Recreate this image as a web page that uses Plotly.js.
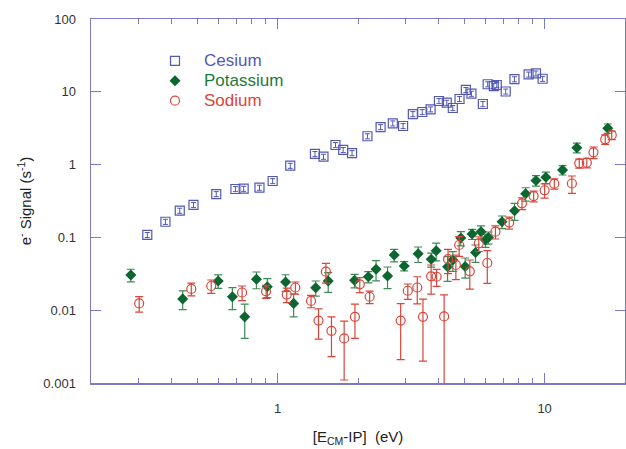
<!DOCTYPE html>
<html>
<head>
<meta charset="utf-8">
<script src="https://cdn.plot.ly/plotly-3.0.1.min.js"></script>
<style>
html,body{margin:0;padding:0;background:#fff;}
#chart{width:626px;height:449px;}
</style>
</head>
<body>
<div id="chart"></div>
<script>
// Cesium
var csX = [0.325,0.380,0.430,0.484,0.589,0.695,0.746,0.855,0.958,1.115,1.38,1.485,1.647,1.76,1.90,2.17,2.43,2.70,2.95,3.21,3.48,3.74,4.02,4.30,4.53,4.80,5.07,5.32,5.87,6.12,6.45,6.62,7.15,7.71,8.71,9.28,9.83];
var csY = [0.108,0.164,0.233,0.279,0.394,0.462,0.467,0.482,0.595,0.966,1.40,1.285,1.86,1.59,1.44,2.45,3.28,3.69,3.39,4.95,5.28,5.75,7.48,7.08,5.99,7.96,10.6,9.42,6.80,12.7,12.0,12.4,10.1,14.9,17.3,17.9,15.1];

// Potassium
var kX = [0.282,0.441,0.599,0.677,0.753,0.833,0.915,1.071,1.148,1.389,1.547,1.942,2.186,2.337,2.58,2.733,2.979,3.36,3.761,3.926,4.331,4.532,4.856,5.039,5.35,5.51,5.776,6.003,6.16,6.925,7.715,8.49,9.28,10.11,11.67,13.2,17.24];
var kY = [0.0305,0.0143,0.0252,0.0153,0.0081,0.0266,0.0210,0.0244,0.0124,0.0204,0.0252,0.0257,0.0288,0.0366,0.0295,0.0573,0.0405,0.0595,0.050,0.0657,0.0396,0.0489,0.0981,0.0398,0.1114,0.0620,0.1197,0.0921,0.0997,0.1643,0.2327,0.398,0.605,0.669,0.843,1.707,3.15];
var kErr = [0.006,0.0041,0.0053,0.0051,0.004,0.0069,0.0061,0.0063,0.0043,0.0048,0.0076,0.0054,0.005,0.0113,0.0097,0.0113,0.0059,0.0143,0.011,0.018,0.0147,0.0147,0.0216,0.0123,0.0178,0.0166,0.0246,0.019,0.019,0.0325,0.061,0.083,0.10,0.12,0.123,0.26,0.46];

// Sodium
var naX = [0.303,0.475,0.564,0.736,0.905,1.082,1.165,1.334,1.423,1.516,1.591,1.775,1.948,2.031,2.211,2.89,3.073,3.334,3.502,3.758,3.94,4.203,4.348,4.651,4.785,5.246,5.668,6.099,6.543,7.368,8.227,9.096,10.0,10.87,12.65,13.48,14.39,15.24,16.86,17.84];
var naY = [0.0124,0.0196,0.0215,0.0175,0.0182,0.0164,0.0205,0.0134,0.0072,0.0338,0.0052,0.0041,0.0081,0.0227,0.0153,0.0072,0.0185,0.0205,0.0081,0.0292,0.0288,0.0082,0.0502,0.0418,0.0786,0.0342,0.083,0.0445,0.1197,0.160,0.294,0.370,0.444,0.547,0.550,1.042,1.062,1.476,2.225,2.55];
var naErr = [0.003,0.0039,0.0045,0.004,0.0037,0.0037,0.0039,0.0026,0.0032,0.0103,0.0029,0.003,0.004,0.0053,0.003,0.0051,0.0044,0.0083,0.0061,0.0126,0.0076,0.008,0.0184,0.0155,0.0236,0.0147,0.019,0.0212,0.0246,0.03,0.054,0.063,0.098,0.088,0.147,0.15,0.16,0.27,0.33,0.34];

var xMajor = [1, 10];
var xMajorText = ['1', '10'];
var xMinor = [0.2,0.3,0.4,0.5,0.6,0.7,0.8,0.9,2,3,4,5,6,7,8,9,20];
var yTicks = [0.001, 0.01, 0.1, 1, 10, 100];
var yTickText = ['0.001', '0.01', '0.1', '1', '10', '100'];

var csColor = '#5258b4';
var kColor = '#0b6630';
var kErrColor = '#3f8a55';
var naColor = '#d8453a';
var axisColor = '#7a7ac8';

function legName(txt, col) {
  return '<span style="color:' + col + ';font-size:17px">' + txt + '</span>';
}

var traces = [
  {
    x: csX, y: csY, type: 'scatter', mode: 'markers',
    name: legName('Cesium', csColor),
    marker: {symbol: 'square-open', size: 9, color: csColor, line: {width: 1.2}},
    error_y: {type: 'percent', value: 8, color: csColor, thickness: 1, width: 2.5}
  },
  {
    x: kX, y: kY, type: 'scatter', mode: 'markers',
    name: legName('Potassium', '#1c7a3c'),
    marker: {symbol: 'diamond', size: 8.5, color: kColor},
    error_y: {type: 'data', array: kErr, color: kErrColor, thickness: 1.2, width: 4}
  },
  {
    x: naX, y: naY, type: 'scatter', mode: 'markers',
    name: legName('Sodium', naColor),
    marker: {symbol: 'circle-open', size: 9, color: naColor, line: {width: 1.2}},
    error_y: {type: 'data', array: naErr, color: naColor, thickness: 1.2, width: 4}
  }
];

var layout = {
  width: 626, height: 449,
  margin: {l: 91, r: 1, t: 19, b: 66},
  paper_bgcolor: '#fff', plot_bgcolor: '#fff',
  font: {family: 'Liberation Sans, Arial, sans-serif', size: 13, color: '#333'},
  showlegend: true,
  legend: {
    x: 0.103, y: 0.926, xanchor: 'left', yanchor: 'top',
    bgcolor: 'rgba(0,0,0,0)', borderwidth: 0,
    font: {size: 13, family: 'Liberation Sans, Arial, sans-serif'},
    itemwidth: 48, tracegroupgap: 0
  },
  xaxis: {
    type: 'log', range: [Math.log10(0.2), Math.log10(20)],
    tickmode: 'array', tickvals: xMajor, ticktext: xMajorText,
    ticks: 'inside', ticklen: 10, tickwidth: 1, tickcolor: axisColor,
    minor: {tickmode: 'array', tickvals: xMinor, ticks: 'inside', ticklen: 5, tickwidth: 1, tickcolor: axisColor, showgrid: false},
    showline: true, linecolor: axisColor, linewidth: 1.5, mirror: 'ticks',
    showgrid: false, zeroline: false,
    tickfont: {size: 13, color: '#333'},
    ticklabelstandoff: 13,
    title: {text: '[E<sub>CM</sub>-IP]  (eV)', font: {size: 15, color: '#222'}, standoff: 16}
  },
  yaxis: {
    type: 'log', range: [-3, 2],
    tickmode: 'array', tickvals: yTicks, ticktext: yTickText,
    ticks: 'inside', ticklen: 10, tickwidth: 1, tickcolor: axisColor,
    showline: true, linecolor: axisColor, linewidth: 1.5, mirror: 'ticks',
    showgrid: false, zeroline: false,
    tickfont: {size: 13, color: '#333'},
    ticklabelstandoff: 11,
    title: {text: 'e<sup>-</sup> Signal (s<sup>-1</sup>)', font: {size: 15, color: '#222'}, standoff: 8}
  }
};

Plotly.newPlot('chart', traces, layout, {displayModeBar: false, staticPlot: true});
</script>
</body>
</html>
